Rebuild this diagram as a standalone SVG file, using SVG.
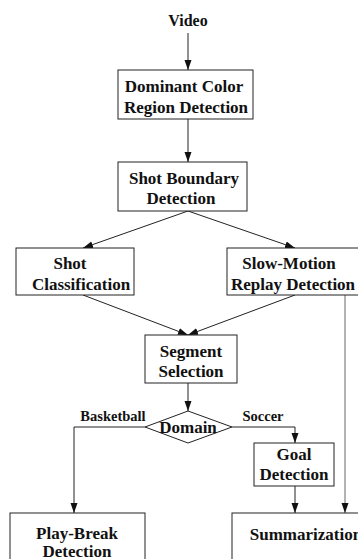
<svg xmlns="http://www.w3.org/2000/svg" width="358" height="559" viewBox="0 0 358 559">
<style>
.box{fill:#fff;stroke:#222;stroke-width:1}
.t{font-family:"Liberation Serif","Times New Roman",serif;font-weight:bold;font-size:17px;fill:#111;text-anchor:middle}
.s{font-size:14.5px}
.v{font-size:16px}
.c{fill:none;stroke:#222;stroke-width:1}
.g{stroke:#666}
</style>
<defs>
<marker id="a" viewBox="0 0 10 10" refX="10" refY="5" markerWidth="10" markerHeight="10" markerUnits="userSpaceOnUse" orient="auto">
<path d="M0,1.5 L10,5 L0,8.5 Z" fill="#111"/>
</marker>
</defs>
<g id="connectors">
<line class="c" x1="188" y1="33" x2="188" y2="70" marker-end="url(#a)"/>
<line class="c" x1="188" y1="119" x2="188" y2="162" marker-end="url(#a)"/>
<line class="c" x1="188" y1="211" x2="83" y2="248" marker-end="url(#a)"/>
<line class="c" x1="188" y1="211" x2="295" y2="248" marker-end="url(#a)"/>
<line class="c" x1="83" y1="295" x2="188" y2="335" marker-end="url(#a)"/>
<line class="c" x1="295" y1="295" x2="188" y2="335" marker-end="url(#a)"/>
<line class="c" x1="188" y1="383" x2="188" y2="411" marker-end="url(#a)"/>
<polyline class="c" points="145,427 74,427 74,513" marker-end="url(#a)"/>
<polyline class="c" points="232,427 295,427 295,443" marker-end="url(#a)"/>
<line class="c" x1="295" y1="486" x2="295" y2="513" marker-end="url(#a)"/>
<line class="c g" x1="345" y1="295" x2="345" y2="513" marker-end="url(#a)"/>
<text class="t s" x="113" y="421">Basketball</text>
<text class="t s" x="263" y="421">Soccer</text>
</g>
<g id="video"><text class="t v" x="188" y="26">Video</text></g>
<g id="dominant">
<rect class="box" x="118" y="70" width="135" height="49"/>
<text class="t" x="184" y="92">Dominant Color</text>
<text class="t" x="186" y="113">Region Detection</text>
</g>
<g id="shotboundary">
<rect class="box" x="118" y="162" width="129" height="49"/>
<text class="t" x="184" y="184">Shot Boundary</text>
<text class="t" x="181" y="204">Detection</text>
</g>
<g id="shotclass">
<rect class="box" x="16" y="248" width="118" height="47"/>
<text class="t" x="70" y="269">Shot</text>
<text class="t" x="81" y="290">Classification</text>
</g>
<g id="slowmotion">
<rect class="box" x="227" y="248" width="140" height="47"/>
<text class="t" x="289" y="269">Slow-Motion</text>
<text class="t" x="293" y="290">Replay Detection</text>
</g>
<g id="segment">
<rect class="box" x="145" y="335" width="92" height="48"/>
<text class="t" x="191" y="357">Segment</text>
<text class="t" x="191" y="377">Selection</text>
</g>
<g id="domain">
<polygon class="box" points="188,411 232,427 188,443 145,427"/>
<text class="t" x="188" y="433">Domain</text>
</g>
<g id="goal">
<rect class="box" x="254" y="443" width="80" height="43"/>
<text class="t" x="294" y="460">Goal</text>
<text class="t" x="294" y="480">Detection</text>
</g>
<g id="playbreak">
<rect class="box" x="10" y="513" width="135" height="60"/>
<text class="t" x="77" y="539">Play-Break</text>
<text class="t" x="77" y="557">Detection</text>
</g>
<g id="summarization">
<rect class="box" x="232" y="513" width="140" height="60"/>
<text class="t" x="306" y="540">Summarization</text>
</g>
</svg>
